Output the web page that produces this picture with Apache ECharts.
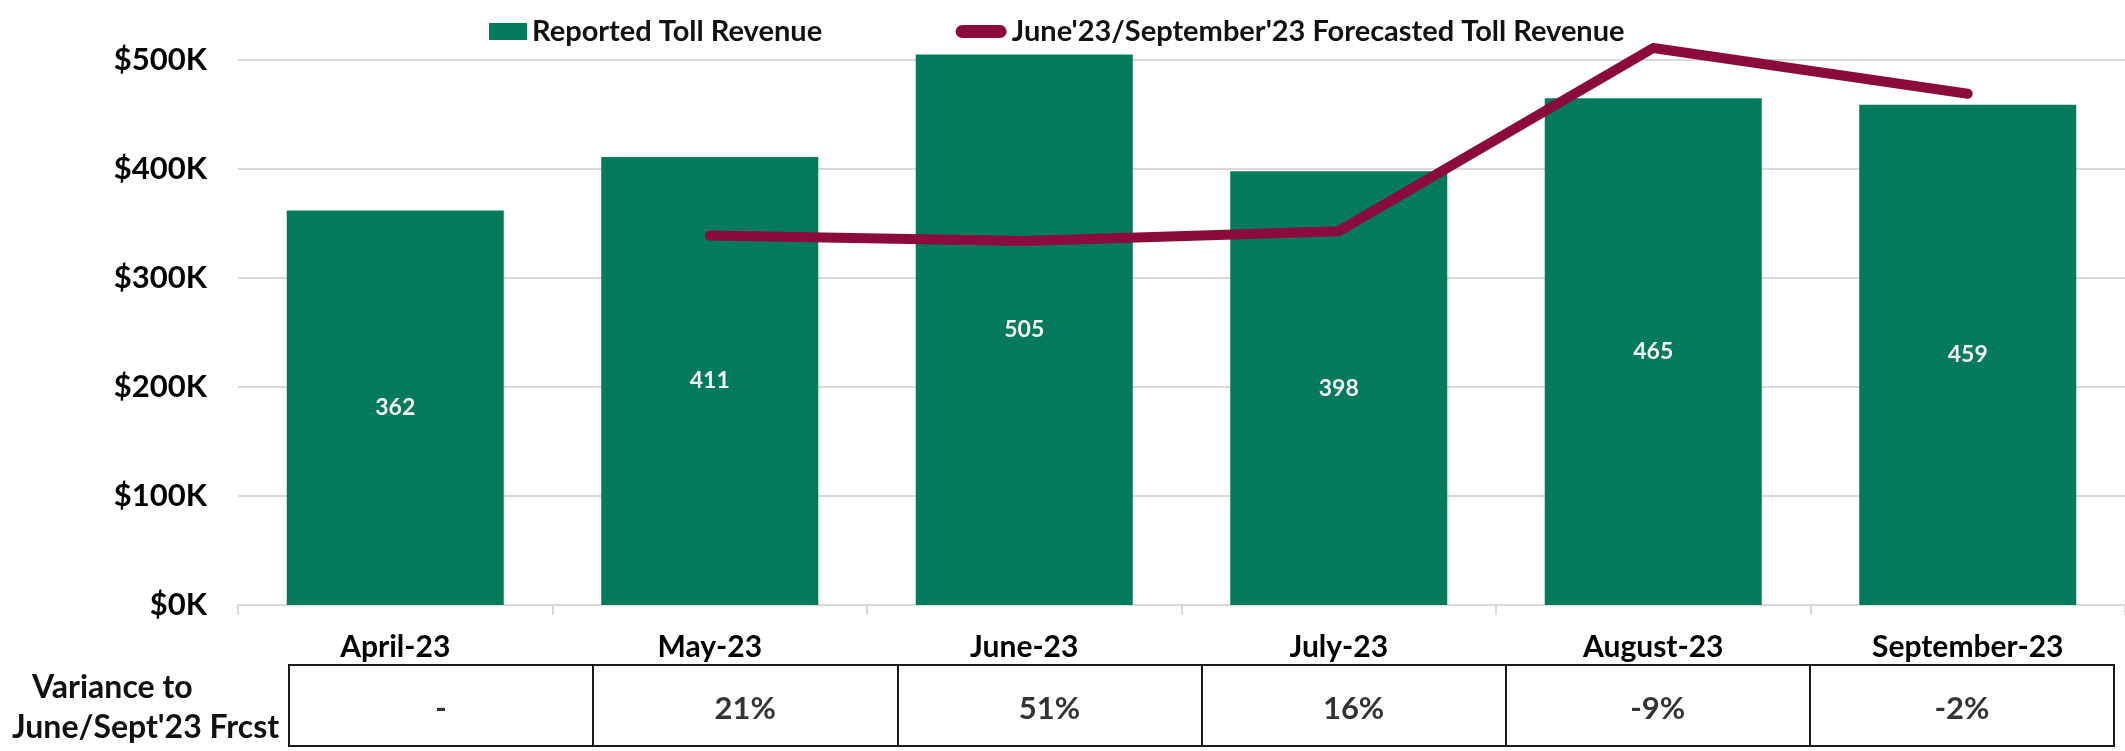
<!DOCTYPE html>
<html>
<head>
<meta charset="utf-8">
<title>Toll Revenue</title>
<script src="https://cdn.jsdelivr.net/npm/echarts@6/dist/echarts.min.js"></script>
<style>
  html, body { margin: 0; padding: 0; background: #ffffff; }
  #chart { width: 2125px; height: 751px; }
</style>
</head>
<body>
<div id="chart"></div>
<script>
// Monthly toll revenue, in thousands of dollars
const months = ['April-23', 'May-23', 'June-23', 'July-23', 'August-23', 'September-23'];
const reportedRevenue = [362, 411, 505, 398, 465, 459];
const forecastRevenue = [null, 339, 334, 343, 511, 469];
// Variance of reported revenue against the forecast, in percent
const varianceToForecast = [null, 21, 51, 16, -9, -2];
const yTicks = [0, 100, 200, 300, 400, 500];

const FONT = "Lato, 'DejaVu Sans Condensed', sans-serif";
const GREEN = '#037a5b';
const MAROON = '#8b0b3d';

const chart = echarts.init(document.getElementById('chart'), null, { renderer: 'canvas' });

const varianceCells = varianceToForecast.map((v, i) => ({
  value: [i, 0.5],
  text: v === null ? '-' : v + '%'
}));

chart.setOption({
  animation: false,
  backgroundColor: '#ffffff',
  textStyle: { fontFamily: FONT, fontWeight: 'bold', color: '#000' },
  legend: {
    left: 470,
    top: 12,
    itemGap: 133,
    itemWidth: 52,
    itemHeight: 17,
    textStyle: { fontFamily: FONT, fontWeight: 'bold', fontSize: 29, color: '#111' },
    data: [
      // square key sits at the right end of the key box, next to its text
      { name: 'Reported Toll Revenue', icon: 'path://M0,0 M14,0 H52 V17 H14 Z' },
      // rounded thick-line key for the forecast series
      { name: "June'23/September'23 Forecasted Toll Revenue",
        icon: 'path://M0,0 M0,17 M7,2 H45 A6.5,6.5 0 0 1 45,15 H7 A6.5,6.5 0 0 1 7,2 Z' }
    ]
  },
  grid: [
    { left: 238, right: -9, top: 60, bottom: 146 },
    { left: 289, right: 11, top: 665, bottom: 5, show: true,
      borderColor: '#1a1a1a', borderWidth: 2, backgroundColor: 'transparent' }
  ],
  xAxis: [
    {
      type: 'category',
      gridIndex: 0,
      data: months,
      axisLine: { show: true, lineStyle: { color: '#d9d9d9', width: 2 } },
      axisTick: { show: true, length: 10, lineStyle: { color: '#d9d9d9', width: 2 } },
      axisLabel: { fontFamily: FONT, fontWeight: 'bold', fontSize: 30, color: '#000', margin: 27 }
    },
    {
      type: 'category',
      gridIndex: 1,
      data: months,
      axisLine: { show: false },
      axisTick: { show: false },
      axisLabel: { show: false },
      splitLine: { show: true, lineStyle: { color: '#1a1a1a', width: 2 } }
    }
  ],
  yAxis: [
    {
      type: 'value',
      gridIndex: 0,
      min: yTicks[0],
      max: yTicks[yTicks.length - 1],
      interval: 100,
      axisLine: { show: false },
      axisTick: { show: false },
      splitLine: { lineStyle: { color: '#d9d9d9', width: 2 } },
      axisLabel: {
        fontFamily: FONT, fontWeight: 'bold', fontSize: 31, color: '#000', margin: 31,
        formatter: v => '$' + v + 'K'
      }
    },
    {
      type: 'value',
      gridIndex: 1,
      min: 0,
      max: 1,
      show: false
    }
  ],
  series: [
    {
      name: 'Reported Toll Revenue',
      type: 'bar',
      data: reportedRevenue,
      barWidth: '69%',
      clip: false,
      itemStyle: { color: GREEN },
      label: {
        show: true,
        position: 'inside',
        color: '#f4f4f4',
        fontFamily: FONT,
        fontWeight: 'bold',
        fontSize: 23
      }
    },
    {
      name: "June'23/September'23 Forecasted Toll Revenue",
      type: 'line',
      data: forecastRevenue,
      clip: false,
      symbol: 'none',
      itemStyle: { color: MAROON },
      lineStyle: { color: MAROON, width: 10, cap: 'round', join: 'round' }
    },
    {
      type: 'scatter',
      xAxisIndex: 1,
      yAxisIndex: 1,
      symbolSize: 0,
      silent: true,
      data: varianceCells,
      label: {
        show: true,
        position: 'inside',
        offset: [0, 3],
        formatter: p => p.data.text,
        fontFamily: FONT,
        fontWeight: 'bold',
        fontSize: 31,
        color: '#000'
      }
    }
  ],
  graphic: [
    {
      type: 'text',
      left: 32,
      top: 672,
      style: { text: 'Variance to', font: 'bold 32px ' + FONT, fill: '#111' }
    },
    {
      type: 'text',
      left: 12,
      top: 712,
      style: { text: "June/Sept'23 Frcst", font: 'bold 32px ' + FONT, fill: '#111' }
    }
  ]
});
</script>
</body>
</html>
